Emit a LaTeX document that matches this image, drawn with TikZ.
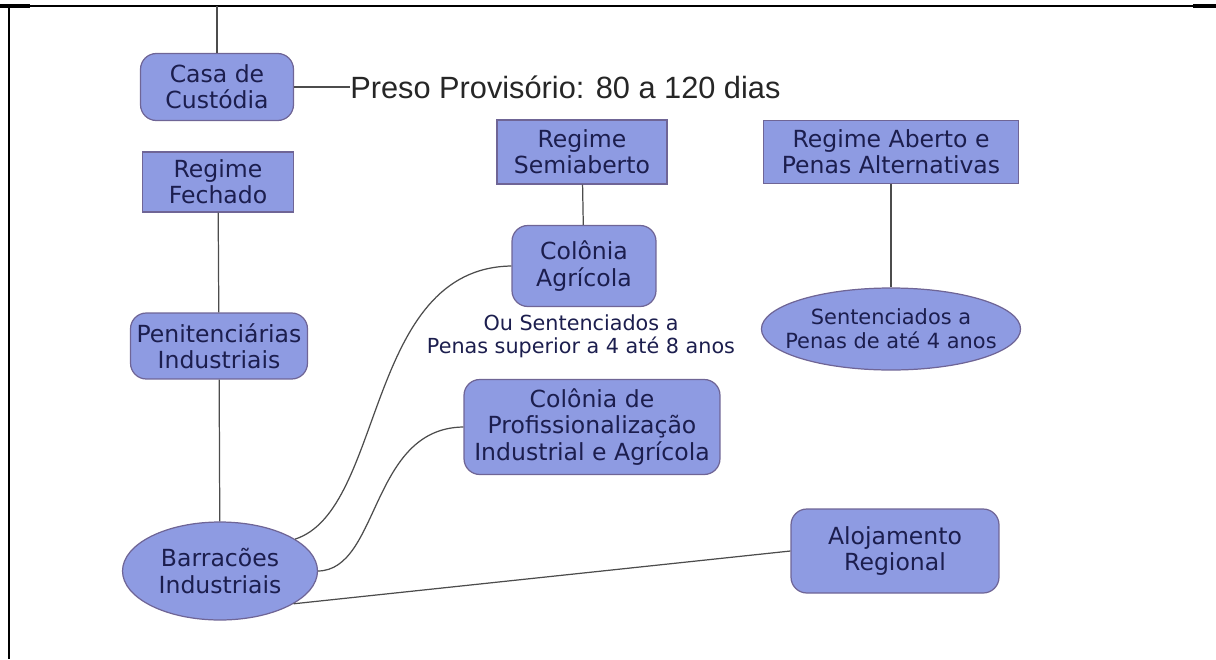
\documentclass[tikz,border=0pt]{standalone}
\usepackage{fontspec}
\setmainfont{DejaVu Sans}
\newfontfamily\arialfont{Liberation Sans}
\usepackage{xcolor}
\usepackage{tikz}
\usetikzlibrary{positioning, calc, shapes.geometric}

\definecolor{boxfill}{HTML}{8E9BE2}
\definecolor{boxline}{HTML}{6F6596}
\definecolor{boxtext}{HTML}{1C1E4E}

\begin{document}
\begin{tikzpicture}[x=0.02cm, y=-0.02cm,
        regime/.style={draw=boxline, fill=boxfill, text=boxtext, align=center,
            inner sep=0pt, line width=0.7pt, font=\fontsize{13.4}{15}\selectfont},
        roundbox/.style={regime, rounded corners=9pt},
        oval/.style={regime, ellipse},
        link/.style={draw=black!70, line width=0.7pt}]
        \useasboundingbox (0,0) rectangle (1216,659);

        % the frame
        \draw [line width=0.9pt] (0,6) -- (1216,6);
        \draw [line width=0.9pt] (9,6) -- (9,659);
        \draw [line width=1.8pt] (0,6) -- (30,6);
        \draw [line width=1.8pt] (1193,6) -- (1216,6);

        \coordinate (top) at (217,6);

        % left column
        \node[roundbox, minimum width=3.06cm, minimum height=1.34cm] (casa) at (217,87) {Casa de\\Custódia};
        \node[text=black!85, font=\arialfont\fontsize{17.5}{20}\selectfont, anchor=west, inner sep=0pt] (preso) at (350,87) {Preso Provisório: 80 a 120 dias};
        \node[regime, minimum width=3.02cm, minimum height=1.2cm] (fechado) at (218,182) {Regime\\Fechado};
        \node[roundbox, minimum width=3.54cm, minimum height=1.32cm] (penit) at (219,346) {Penitenciárias\\Industriais};
        \node[oval, minimum width=3.9cm, minimum height=1.96cm] (barr) at (220,571) {Barracões\\Industriais};

        % middle column
        \node[regime, minimum width=3.4cm, minimum height=1.28cm] (semi) at (582,152) {Regime\\Semiaberto};
        \node[roundbox, minimum width=2.88cm, minimum height=1.62cm] (colag) at (584,266) {Colônia\\Agrícola};
        \node[text=boxtext, align=center, font=\fontsize{11.8}{13}\selectfont, inner sep=0pt] (oupenas) at (581,336) {Ou Sentenciados a\\Penas superior a 4 até 8 anos};
        \node[roundbox, minimum width=5.12cm, minimum height=1.9cm] (colprof) at (592,427) {Colônia de\\Profissionalização\\Industrial e Agrícola};

        % right column
        \node[regime, minimum width=5.1cm, minimum height=1.26cm] (aberto) at (891,152) {Regime Aberto e\\Penas Alternativas};
        \node[oval, inner xsep=-8pt, minimum width=5.12cm, minimum height=1.64cm,
            font=\fontsize{11.9}{13.5}\selectfont] (sent) at (891,329) {Sentenciados a\\Penas de até 4 anos};
        \node[roundbox, minimum width=4.16cm, minimum height=1.68cm] (aloj) at (895,551) {Alojamento\\Regional};

        % the links
        \draw[link] (top) -- (casa);
        \draw[link] (casa.east) -- (preso.west);
        \draw[link] (fechado) -- (penit);
        \draw[link] (penit) -- (barr);
        \draw[link] (semi) -- (colag);
        \draw[link] (aberto) -- (sent);
        \draw[link] (barr.23) .. controls (385,510) and (365,268) .. (colag.west);
        \draw[link] (barr.east) .. controls (380,570) and (370,428) .. (colprof.west);
        \draw[link] (barr.-24) -- (aloj.west);
    \end{tikzpicture}
\end{document}
